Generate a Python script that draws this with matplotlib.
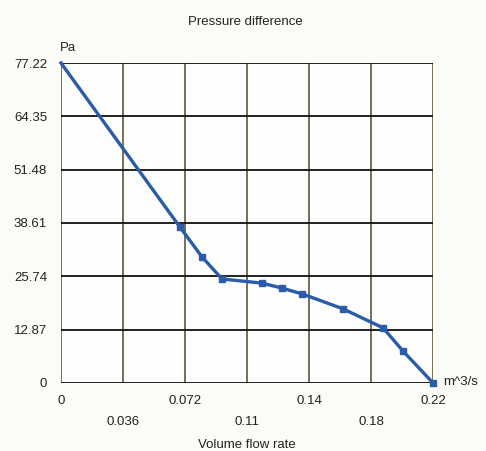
import matplotlib.pyplot as plt
import numpy as np

plt.rcParams['font.family'] = ['Liberation Sans', 'DejaVu Sans']

# fan curve
flow = [0.0, 0.0691, 0.0819, 0.0935, 0.1167, 0.1283, 0.1400, 0.1637, 0.1870, 0.1986, 0.2160]
dp = [77.22, 37.6, 30.4, 25.1, 24.1, 22.9, 21.5, 17.9, 13.3, 7.7, 0.0]

x_ticks = [0.0, 0.036, 0.072, 0.108, 0.144, 0.18, 0.216]
x_labels = ["0", "0.036", "0.072", "0.11", "0.14", "0.18", "0.22"]
y_ticks = [0.0, 12.87, 25.74, 38.61, 51.48, 64.35, 77.22]
y_labels = ["0", "12.87", "25.74", "38.61", "51.48", "64.35", "77.22"]

fig = plt.figure(figsize=(4.86, 4.51), dpi=100)
fig.patch.set_facecolor('#fbfbf8')
ax = fig.add_axes([0.1255, 0.1508, 0.7655, 0.7095])
ax.set_facecolor('#fdfdfb')

for xv in x_ticks:
    ax.axvline(xv, color='#6e6448', lw=1.3, zorder=1)
for yv in y_ticks:
    ax.axhline(yv, color='#111111', lw=1.3, zorder=1)

ax.plot(flow, dp, color='#2a5caa', lw=2.4, marker='s', ms=4,
        markevery=list(range(1, len(flow))), zorder=3, clip_on=False)

ax.set_xlim(x_ticks[0], x_ticks[-1])
ax.set_ylim(y_ticks[0], y_ticks[-1])
for s in ax.spines.values():
    s.set_visible(False)

fs = 9.5
ax.set_xticks(x_ticks)
ax.set_xticklabels([lab if i % 2 == 0 else "\n" + lab for i, lab in enumerate(x_labels)])
ax.set_yticks(y_ticks)
ax.set_yticklabels(y_labels)
ax.tick_params(length=0, labelsize=fs, colors='#222222', pad=10)
ax.tick_params(axis='x', pad=9)
for t in ax.get_xticklabels():
    t.set_linespacing(1.9)

fig.text(0.504, 0.951, "Pressure difference", ha='center', va='center', fontsize=fs, color='#222222')
fig.text(0.124, 0.893, "Pa", ha='left', va='center', fontsize=fs, color='#222222')
fig.text(0.912, 0.153, "m^3/s", ha='left', va='center', fontsize=fs, color='#222222')
fig.text(0.508, 0.013, "Volume flow rate", ha='center', va='center', fontsize=fs, color='#222222')

fig.savefig("out.png", dpi=100, facecolor=fig.get_facecolor())
